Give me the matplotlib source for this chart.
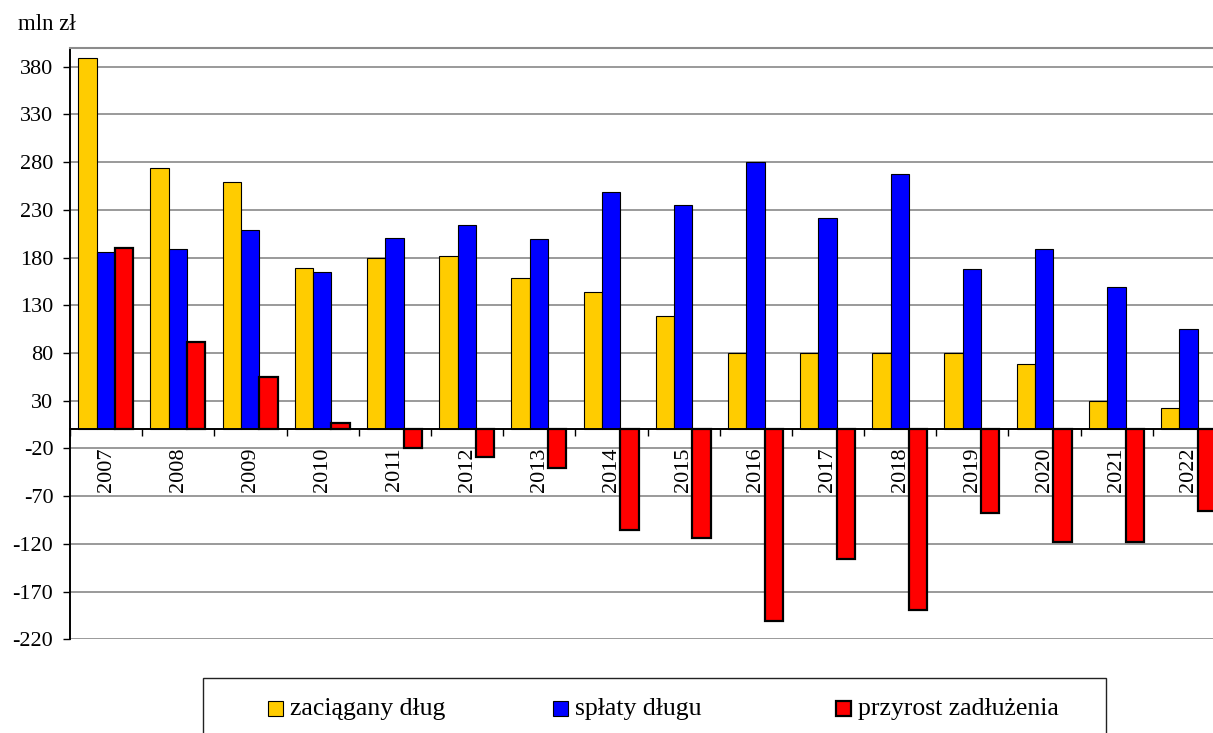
import numpy as np
import matplotlib.pyplot as plt
from matplotlib.patches import Rectangle

# --- dane ---
years = [str(y) for y in range(2007, 2023)]
zaciagany = [389, 274, 259, 169, 180, 182, 159, 144, 119, 80, 80, 80, 80, 69, 30, 22]
splaty = [186, 189, 209, 165, 201, 214, 199, 249, 235, 280, 222, 268, 168, 189, 149, 105]
przyrost = [190, 92, 55, 7, -20, -29, -40, -105, -114, -201, -136, -189, -88, -118, -118, -86]

series_names = ['zaciągany dług', 'spłaty długu', 'przyrost zadłużenia']
colors = ['#FFCC00', '#0000FF', '#FF0000']
edge_widths = [0.8, 0.8, 1.6]

yticks = list(range(-220, 381, 50))

plt.rcParams['font.family'] = ['Liberation Serif', 'DejaVu Serif']
FS = 16

W, H = 1213, 733
fig = plt.figure(figsize=(W / 100, H / 100), dpi=100)


def px(x, y):
    # piksele obrazu -> współrzędne figury
    return x / W, 1 - y / H


left, top = px(70, 47.7)
right, bottom = px(1225, 639.3)
ax = fig.add_axes([left, bottom, right - left, top - bottom])

x = np.arange(len(years))
bw = 0.254
for k, (vals, c, lw) in enumerate(zip([zaciagany, splaty, przyrost], colors, edge_widths)):
    ax.bar(x + (k - 1) * bw - 0.005, vals, width=bw, color=c, edgecolor='black',
           linewidth=lw, zorder=3)

ax.set_xlim(-0.5, len(years) - 0.5)
ax.set_ylim(-220, 400)
ax.set_yticks(yticks)
ax.set_yticklabels([str(v) for v in yticks], fontsize=FS)
ax.grid(axis='y', color='#929292', linewidth=1.3, zorder=0)
ax.tick_params(axis='y', direction='out', length=5, width=1, pad=7)

# oś X w zerze
ax.spines['bottom'].set_position(('data', 0))
ax.spines['bottom'].set_linewidth(1.4)
ax.spines['bottom'].set_zorder(4)
ax.spines['left'].set_linewidth(1.4)
ax.spines['right'].set_visible(False)
ax.spines['top'].set_color('#8c8c8c')
ax.spines['top'].set_linewidth(1.5)
ax.set_xticks(np.arange(-0.5, len(years), 1.0))
ax.set_xticklabels([])
ax.tick_params(axis='x', direction='out', length=5, width=1)

for i, yr in enumerate(years):
    ax.annotate(yr, (i, 0), xytext=(0, -13), textcoords='offset points',
                rotation=90, ha='center', va='top', fontsize=FS, zorder=5)

fig.text(*px(18, 25), 'mln zł', fontsize=FS + 0.5, va='center', ha='left')

# legenda rysowana ręcznie
lx0, ly0 = px(203, 760)
lx1, ly1 = px(1106, 678)
fig.patches.append(Rectangle((lx0, ly0), lx1 - lx0, ly1 - ly0, transform=fig.transFigure,
                             fill=False, edgecolor='#222222', linewidth=1.0))
sq_x = [268, 553, 836]
for name, c, lw, sx in zip(series_names, colors, edge_widths, sq_x):
    sx0, sy0 = px(sx, 716)
    sx1, sy1 = px(sx + 15, 701)
    fig.patches.append(Rectangle((sx0, sy0), sx1 - sx0, sy1 - sy0, transform=fig.transFigure,
                                 facecolor=c, edgecolor='black', linewidth=lw))
    fig.text(*px(sx + 22, 709), name, fontsize=FS + 2.5, va='center', ha='left')

fig.savefig('out.png', dpi=100)
